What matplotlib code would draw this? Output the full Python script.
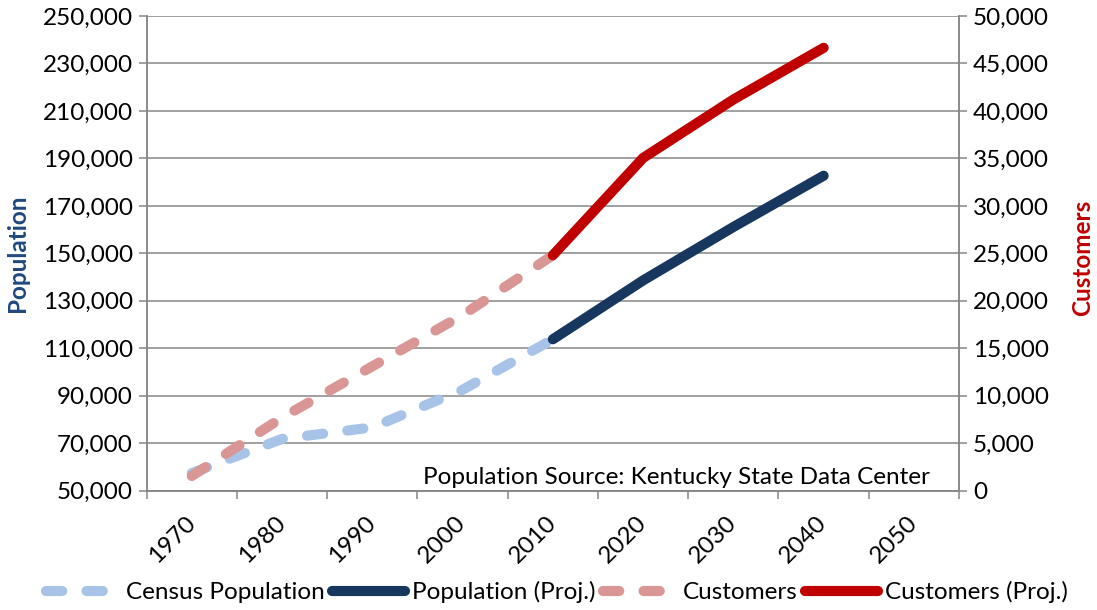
import numpy as np
import matplotlib
matplotlib.use("Agg")
import matplotlib.pyplot as plt
from matplotlib.ticker import FuncFormatter, FixedLocator

# category axis
years = ['1970', '1980', '1990', '2000', '2010', '2020', '2030', '2040', '2050']

# population (left axis)
census_years = ['1970', '1980', '1990', '2000', '2010']
census_pop = [57432, 71828, 76673, 92522, 113792]
proj_years = ['2010', '2020', '2030', '2040']
proj_pop = [113792, 138600, 161100, 182700]

# customers (right axis)
cust_years = ['1970', '1980', '1990', '2000', '2010']
customers = [1550, 7700, 13100, 18500, 24800]
cust_proj_years = ['2010', '2020', '2030', '2040']
cust_proj = [24800, 35050, 41200, 46650]

plt.rcParams['font.family'] = ['Lato', 'DejaVu Sans']
FS = 17.5
GRAY = '#868686'

fig = plt.figure(figsize=(10.97, 6.10), dpi=100)
ax = fig.add_axes([146.7 / 1097, 1 - 490.7 / 610, (959 - 146.7) / 1097, (490.7 - 16) / 610])
ax2 = ax.twinx()

pos = {y: i for i, y in enumerate(years)}
lw = 7.3
dash = (1.6, 2.4)

ax.plot([pos[y] for y in census_years], census_pop, color='#A7C4E8', lw=lw,
        dashes=dash, dash_capstyle='round', solid_capstyle='round', label='Census Population')
ax.plot([pos[y] for y in proj_years], proj_pop, color='#17375E', lw=lw,
        solid_capstyle='round', solid_joinstyle='round', label='Population (Proj.)')
ax2.plot([pos[y] for y in cust_years], customers, color='#D99694', lw=lw,
         dashes=dash, dash_capstyle='round', label='Customers')
ax2.plot([pos[y] for y in cust_proj_years], cust_proj, color='#C00000', lw=lw,
         solid_capstyle='round', solid_joinstyle='round', label='Customers (Proj.)')

ax.set_xlim(-0.5, len(years) - 0.5)
ax.set_ylim(50000, 250000)
ax2.set_ylim(0, 50000)
ax.set_yticks(np.arange(50000, 250001, 20000))
ax2.set_yticks(np.arange(0, 50001, 5000))
fmt = FuncFormatter(lambda v, p: f'{int(v):,}')
ax.yaxis.set_major_formatter(fmt)
ax2.yaxis.set_major_formatter(fmt)

# ticks between categories, labels at centres
ax.xaxis.set_major_locator(FixedLocator(np.arange(-0.5, len(years), 1)))
ax.xaxis.set_minor_locator(FixedLocator(np.arange(len(years))))
ax.set_xticklabels([], minor=False)
ax.set_xticklabels(years, minor=True, rotation=45, ha='right', va='center',
                   rotation_mode='anchor', fontsize=FS)
ax.tick_params(axis='x', which='major', length=6, width=1.1, color=GRAY, direction='out')
ax.tick_params(axis='x', which='minor', length=0, pad=21)

ax.tick_params(axis='y', length=6, width=1.1, color=GRAY, labelsize=FS, pad=4)
ax2.tick_params(axis='y', length=6, width=1.1, color=GRAY, labelsize=FS, pad=4)

ax.grid(axis='y', color=GRAY, lw=1.1)
ax.set_axisbelow(True)
for a in (ax, ax2):
    for s in a.spines.values():
        s.set_color(GRAY)
        s.set_linewidth(1.1)
    a.spines['top'].set_visible(False)

ax.text(0.964, 0.028, 'Population Source: Kentucky State Data Center', transform=ax.transAxes,
        ha='right', va='center', fontsize=FS, zorder=5)

fig.text(18 / 1097, 1 - 253 / 610, 'Population', rotation=90, ha='center', va='center',
         fontsize=FS, fontweight='bold', color='#1F497D')
fig.text(1083 / 1097, 1 - 258 / 610, 'Customers', rotation=90, ha='center', va='center',
         fontsize=FS, fontweight='bold', color='#C00000')

h1, l1 = ax.get_legend_handles_labels()
h2, l2 = ax2.get_legend_handles_labels()
fig.legend(h1 + h2, l1 + l2, loc='center', bbox_to_anchor=(557 / 1097, 1 - 592 / 610), ncol=4,
           frameon=False, fontsize=FS, handlelength=3.0, handletextpad=0.3, columnspacing=0.3)

fig.savefig('out.png', dpi=100)
